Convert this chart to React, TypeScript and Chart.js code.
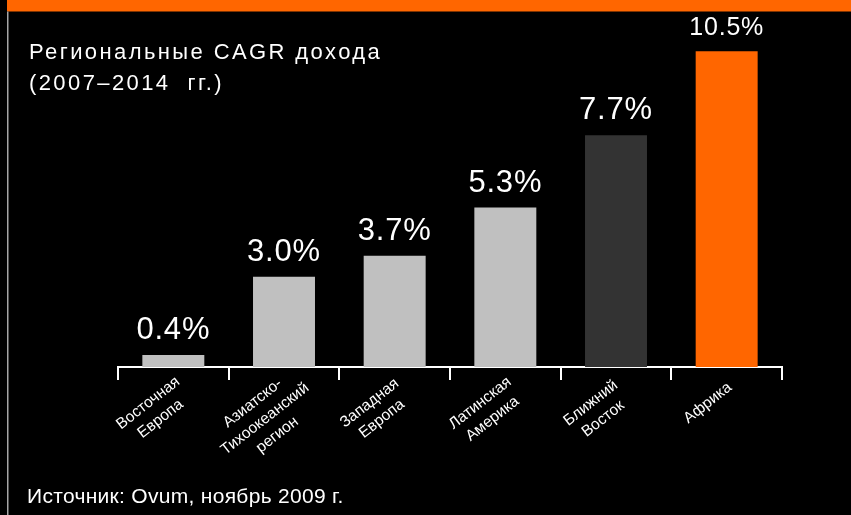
import React, { useEffect, useRef } from "react";
import { Chart, registerables } from "chart.js";

Chart.register(...registerables);

const categories: string[][] = [
  ["Восточная", "Европа"],
  ["Азиатско-", "Тихоокеанский", "регион"],
  ["Западная", "Европа"],
  ["Латинская", "Америка"],
  ["Ближний", "Восток"],
  ["Африка"],
];
const cagrValues: number[] = [0.4, 3.0, 3.7, 5.3, 7.7, 10.5];
const valueLabels: string[] = ["0.4%", "3.0%", "3.7%", "5.3%", "7.7%", "10.5%"];
const barColors: string[] = ["#c0c0c0", "#c0c0c0", "#c0c0c0", "#c0c0c0", "#333333", "#ff6600"];
const titleLines: string[] = ["Региональные CAGR дохода", "(2007–2014  гг.)"];
const sourceText = "Источник: Ovum, ноябрь 2009 г.";

const FONT = '"Liberation Sans", Arial, sans-serif';

const decorPlugin = {
  id: "decor",
  beforeDraw(chart: any) {
    const { ctx, width, height } = chart;
    ctx.save();
    ctx.fillStyle = "#000000";
    ctx.fillRect(0, 0, width, height);
    ctx.fillStyle = "#ff6600";
    ctx.fillRect(7, 0, width - 7, 11.5);
    ctx.strokeStyle = "#a6a6a6";
    ctx.lineWidth = 1.5;
    ctx.beginPath();
    ctx.moveTo(7.75, 11.5);
    ctx.lineTo(7.75, height);
    ctx.stroke();
    ctx.restore();
  },
  afterDraw(chart: any) {
    const { ctx } = chart;
    const xScale = chart.scales.x;
    const meta = chart.getDatasetMeta(0);
    ctx.save();
    // Title
    ctx.fillStyle = "#ffffff";
    ctx.textAlign = "left";
    ctx.textBaseline = "alphabetic";
    ctx.font = `22px ${FONT}`;
    (ctx as any).letterSpacing = "2.4px";
    ctx.fillText(titleLines[0], 29, 58.5);
    ctx.fillText(titleLines[1], 29, 90);
    // Source
    ctx.font = `21px ${FONT}`;
    (ctx as any).letterSpacing = "0.3px";
    ctx.fillText(sourceText, 27, 503);
    // Value labels
    ctx.textAlign = "center";
    meta.data.forEach((bar: any, i: number) => {
      const size = i === meta.data.length - 1 ? 25 : 31;
      ctx.font = `${size}px ${FONT}`;
      (ctx as any).letterSpacing = "0.8px";
      ctx.fillText(valueLabels[i], bar.x, bar.y - 16);
    });
    // Category labels (rotated, centred lines)
    (ctx as any).letterSpacing = "0px";
    ctx.font = `15.5px ${FONT}`;
    ctx.textBaseline = "middle";
    const angle = (-38 * Math.PI) / 180;
    categories.forEach((lines, i) => {
      const cx = xScale.getPixelForValue(i) - 19;
      const n = lines.length;
      const cy = 395 + n * 8;
      ctx.save();
      ctx.translate(cx, cy);
      ctx.rotate(angle);
      lines.forEach((line, j) => {
        ctx.fillText(line, 0, (j - (n - 1) / 2) * 20);
      });
      ctx.restore();
    });
    ctx.restore();
  },
};

export default function App() {
  const canvasRef = useRef<HTMLCanvasElement | null>(null);

  useEffect(() => {
    const canvas = canvasRef.current;
    if (!canvas) return;
    const chart = new Chart(canvas, {
      type: "bar",
      data: {
        labels: categories.map((c) => c.join(" ")),
        datasets: [
          {
            data: cagrValues,
            backgroundColor: barColors,
            borderWidth: 0,
            barPercentage: 0.56,
            categoryPercentage: 1,
          },
        ],
      },
      options: {
        responsive: false,
        animation: false,
        devicePixelRatio: 1,
        layout: { padding: { left: 118, right: 69, top: 6, bottom: 135 } },
        plugins: {
          legend: { display: false },
          tooltip: { enabled: false },
          title: { display: false },
        },
        scales: {
          x: {
            offset: true,
            grid: {
              display: true,
              offset: true,
              drawOnChartArea: false,
              drawTicks: true,
              tickLength: 13,
              color: "#ffffff",
              lineWidth: 2,
            },
            border: { display: true, color: "#ffffff", width: 2 },
            ticks: { display: false },
          },
          y: {
            display: false,
            min: 0,
            max: 12,
          },
        },
      },
      plugins: [decorPlugin],
    });
    return () => chart.destroy();
  }, []);

  return (
    <div style={{ position: "fixed", left: 0, top: 0, width: 851, height: 515, background: "#000" }}>
      <canvas ref={canvasRef} width={851} height={515} style={{ display: "block" }} />
    </div>
  );
}
